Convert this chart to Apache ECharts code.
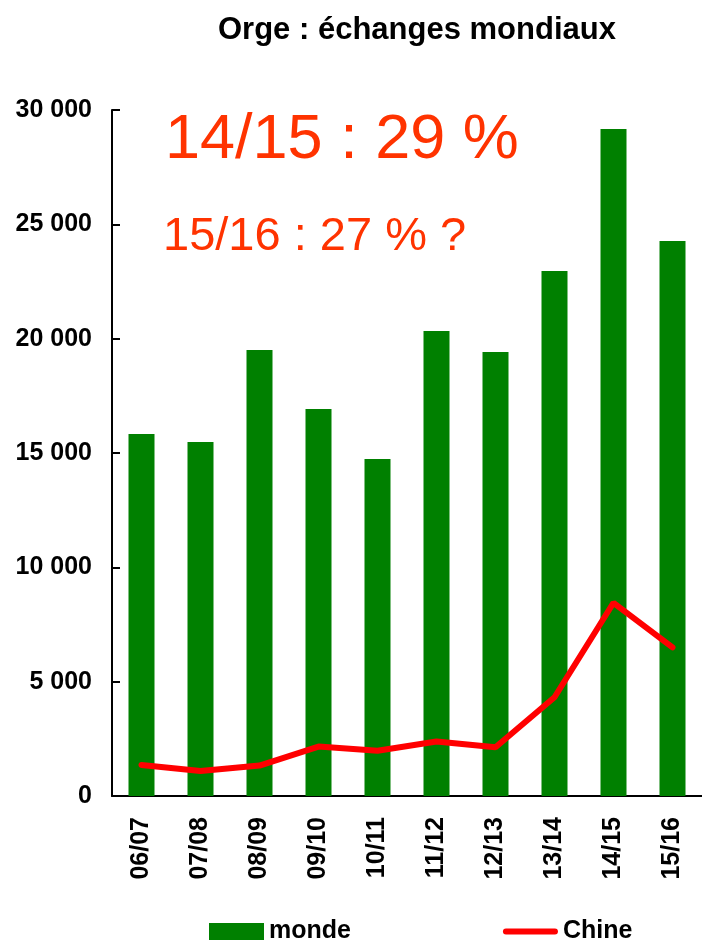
<!DOCTYPE html>
<html>
<head>
<meta charset="utf-8">
<script src="https://cdn.jsdelivr.net/npm/echarts@6/dist/echarts.min.js"></script>
<style>
  html, body { margin: 0; padding: 0; background: #fff; }
  #chart { width: 702px; height: 940px; }
</style>
</head>
<body>
<div id="chart"></div>
<script>
// campagnes
var campagnes = ['06/07', '07/08', '08/09', '09/10', '10/11', '11/12', '12/13', '13/14', '14/15', '15/16'];
// échanges mondiaux d'orge (1000 t)
var monde = [15830, 15480, 19500, 16920, 14740, 20330, 19420, 22960, 29170, 24270];
// importations de la Chine
var chine = [1360, 1090, 1330, 2160, 1980, 2380, 2130, 4320, 8450, 6500];
var yTicks = { min: 0, max: 30000, interval: 5000 };

var myChart = echarts.init(document.getElementById('chart'));

var font = 'Liberation Sans, Arial, sans-serif';

var option = {
    animation: false,
    title: {
        text: 'Orge : échanges mondiaux',
        left: 213,
        top: 10,
        textStyle: { fontFamily: font, fontSize: 31, fontWeight: 'bold', color: '#000' }
    },
    grid: {
        left: 112,
        top: 110,
        width: 592,
        height: 686
    },
    legend: {
        left: 204,
        top: 914,
        itemWidth: 55,
        itemHeight: 17,
        itemGap: 152,
        textStyle: { fontFamily: font, fontSize: 25, fontWeight: 'bold', color: '#000' },
        data: [
            { name: 'monde', icon: 'rect' },
            { name: 'Chine', icon: 'path://M3,0h49a3,3 0 0 1 0,6h-49a3,3 0 0 1 0,-6z' }
        ]
    },
    xAxis: {
        type: 'category',
        data: campagnes,
        axisLine: { lineStyle: { color: '#000', width: 2 } },
        axisTick: { show: false },
        axisLabel: {
            rotate: 90,
            margin: 21,
            fontFamily: font,
            fontSize: 25,
            fontWeight: 'bold',
            color: '#000'
        }
    },
    yAxis: {
        type: 'value',
        min: yTicks.min,
        max: yTicks.max,
        interval: yTicks.interval,
        axisLine: { show: true, lineStyle: { color: '#000', width: 2 } },
        axisTick: { show: true, inside: true, length: 8, lineStyle: { color: '#000', width: 2 } },
        splitLine: { show: false },
        axisLabel: {
            margin: 20,
            fontFamily: font,
            fontSize: 25,
            fontWeight: 'bold',
            color: '#000',
            formatter: function (v) {
                return String(v).replace(/\B(?=(\d{3})+(?!\d))/g, ' ');
            }
        }
    },
    series: [
        {
            name: 'monde',
            type: 'bar',
            data: monde,
            barWidth: 26,
            itemStyle: { color: '#008000' }
        },
        {
            name: 'Chine',
            type: 'line',
            data: chine,
            symbol: 'none',
            lineStyle: { color: '#ff0000', width: 6, cap: 'round' },
            itemStyle: { color: '#ff0000' }
        }
    ],
    graphic: [
        {
            type: 'text',
            left: 165,
            top: 109,
            style: { text: '14/15 : 29 %', fill: '#ff3300', font: '63px ' + font }
        },
        {
            type: 'text',
            left: 163,
            top: 214,
            style: { text: '15/16 : 27 % ?', fill: '#ff3300', font: '47px ' + font }
        }
    ]
};
myChart.setOption(option);
</script>
</body>
</html>
